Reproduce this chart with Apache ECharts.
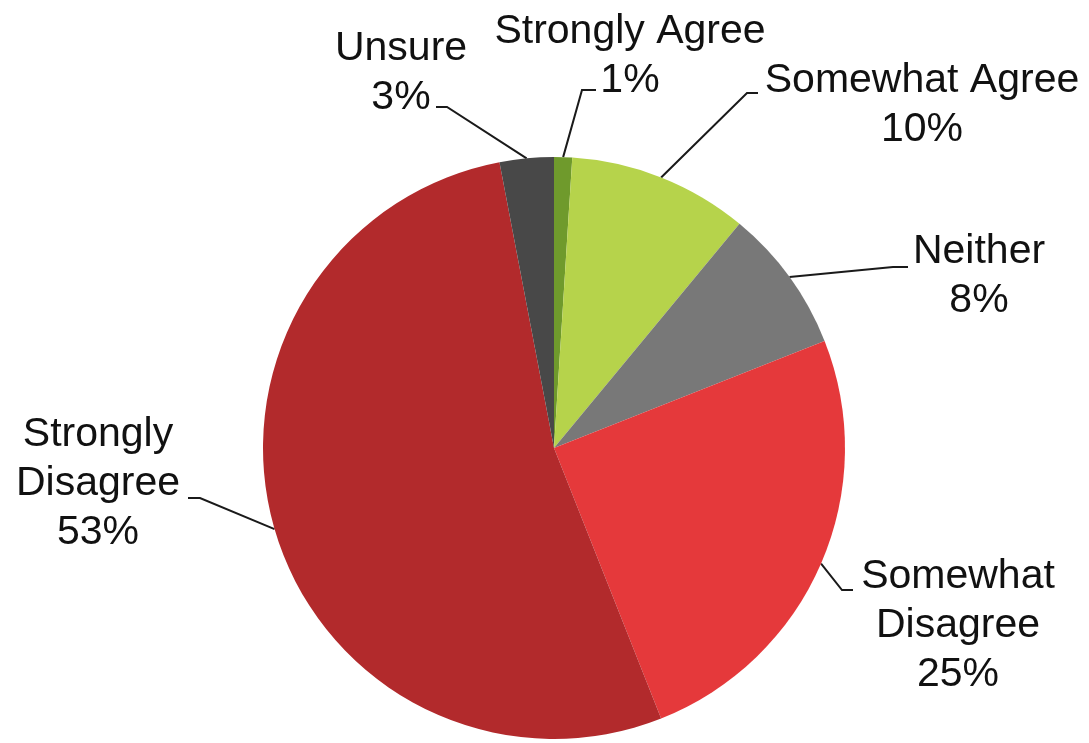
<!DOCTYPE html>
<html>
<head>
<meta charset="utf-8">
<title>Survey pie</title>
<script src="https://cdn.jsdelivr.net/npm/echarts@6/dist/echarts.min.js"></script>
<style>
  * { margin: 0; padding: 0; }
  html, body { background: #fff; }
  #main { width: 1089px; height: 743px; }
</style>
</head>
<body>
<div id="main"></div>
<script>
  // data, clockwise from 12 o'clock
  var categories = ['Strongly Agree', 'Somewhat Agree', 'Neither', 'Somewhat Disagree', 'Strongly Disagree', 'Unsure'];
  var percents = [1, 10, 8, 25, 53, 3];
  var labelNames = ['Strongly Agree', 'Somewhat Agree', 'Neither', 'Somewhat\nDisagree', 'Strongly\nDisagree', 'Unsure'];

  var colors = ['#6f9a2c', '#b6d34b', '#787878', '#e5393b', '#b22a2c', '#484848'];

  // where each label sits (centre) and how its leader line bends
  var labelSpots = [
    { x: 630, y: 56, bend: [582, 90], end: [596, 90] },
    { x: 922, y: 105, bend: [747, 93], end: [758, 93] },
    { x: 979, y: 276, bend: [893, 267], end: [908, 267] },
    { x: 958, y: 626, bend: [842, 590], end: [853, 590] },
    { x: 98, y: 484, bend: [200, 498], end: [188, 498] },
    { x: 401, y: 73, bend: [447, 107], end: [436, 107] }
  ];

  var pieData = [];
  categories.forEach(function (name, i) {
    pieData.push({ name: name, value: percents[i], itemStyle: { color: colors[i] } });
  });

  var chart = echarts.init(document.getElementById('main'));
  chart.setOption({
    backgroundColor: '#fff',
    animation: false,
    series: [{
      type: 'pie',
      center: [554, 448],
      radius: 291,
      startAngle: 90,
      clockwise: true,
      avoidLabelOverlap: false,
      data: pieData,
      itemStyle: { borderWidth: 0 },
      label: {
        show: true,
        position: 'outside',
        formatter: function (p) {
          return labelNames[p.dataIndex] + '\n' + p.value + '%';
        },
        fontFamily: 'Liberation Sans, Arial, sans-serif',
        fontSize: 41,
        lineHeight: 49,
        color: '#111',
        align: 'center'
      },
      labelLine: {
        show: true,
        length: 30,
        length2: 10,
        smooth: false,
        lineStyle: { color: '#1a1a1a', width: 2 }
      },
      labelLayout: function (params) {
        var s = labelSpots[params.dataIndex];
        var start = params.labelLinePoints ? params.labelLinePoints[0] : s.bend;
        return {
          x: s.x,
          y: s.y,
          align: 'center',
          verticalAlign: 'middle',
          labelLinePoints: [start, s.bend, s.end]
        };
      }
    }]
  });
</script>
</body>
</html>
